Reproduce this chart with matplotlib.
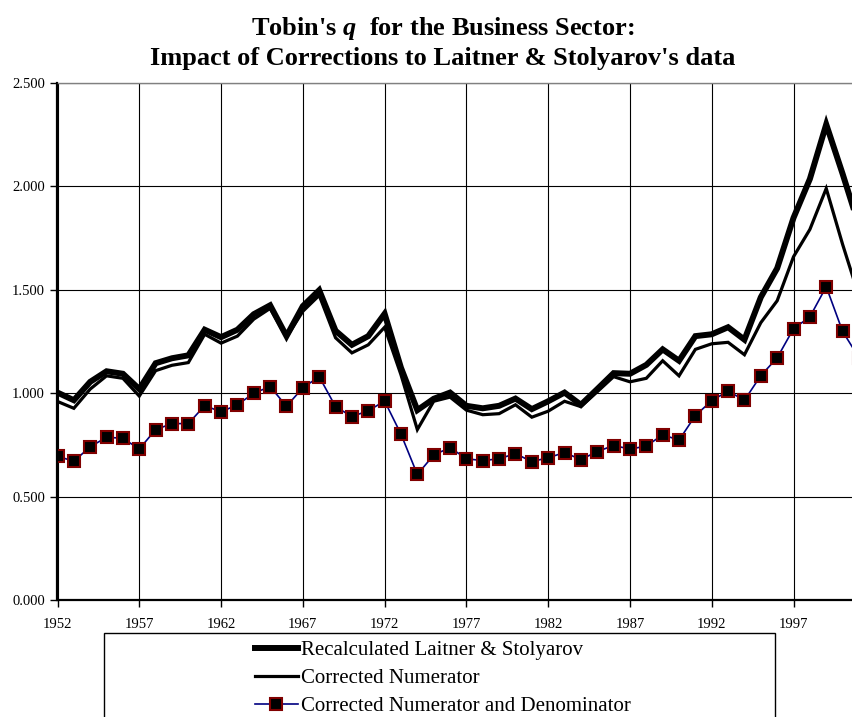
import matplotlib
matplotlib.use('Agg')
import matplotlib.pyplot as plt
from matplotlib.patches import Rectangle
from matplotlib.lines import Line2D

#=======================================================
# data (1952 - 2001)
years = list(range(1952, 2002))

recalc = [1.003, 0.966, 1.055, 1.106, 1.094, 1.020, 1.145, 1.169, 1.183, 1.307,
          1.271, 1.307, 1.382, 1.425, 1.276, 1.421, 1.498, 1.302, 1.234, 1.276,
          1.384, 1.123, 0.918, 0.973, 1.003, 0.939, 0.927, 0.939, 0.974, 0.923,
          0.961, 1.003, 0.944, 1.020, 1.097, 1.094, 1.137, 1.212, 1.157, 1.276,
          1.285, 1.319, 1.259, 1.464, 1.604, 1.848, 2.036, 2.300, 2.061, 1.810]

corr_num = [0.960, 0.927, 1.020, 1.084, 1.072, 0.986, 1.109, 1.135, 1.148, 1.285,
            1.242, 1.276, 1.358, 1.410, 1.270, 1.396, 1.473, 1.268, 1.195, 1.234,
            1.319, 1.089, 0.824, 0.961, 0.981, 0.918, 0.896, 0.901, 0.944, 0.884,
            0.913, 0.961, 0.935, 1.007, 1.080, 1.055, 1.072, 1.157, 1.084, 1.212,
            1.239, 1.246, 1.186, 1.341, 1.447, 1.660, 1.792, 1.990, 1.720, 1.470]

corr_both = [0.695, 0.671, 0.741, 0.787, 0.782, 0.730, 0.824, 0.853, 0.853, 0.940,
             0.910, 0.944, 1.000, 1.032, 0.937, 1.026, 1.080, 0.935, 0.887, 0.915,
             0.962, 0.802, 0.607, 0.701, 0.737, 0.683, 0.674, 0.683, 0.708, 0.669,
             0.688, 0.713, 0.679, 0.718, 0.747, 0.730, 0.744, 0.799, 0.773, 0.892,
             0.964, 1.010, 0.966, 1.085, 1.171, 1.312, 1.369, 1.515, 1.299, 1.172]

labels = ['Recalculated Laitner & Stolyarov',
          'Corrected Numerator',
          'Corrected Numerator and Denominator']
#=======================================================
plt.rcParams['font.family'] = 'Liberation Serif'
plt.rcParams['mathtext.fontset'] = 'custom'
plt.rcParams['mathtext.it'] = 'Liberation Serif:bold:italic'
plt.rcParams['mathtext.rm'] = 'Liberation Serif:bold'

W, H = 853, 717
fig = plt.figure(figsize=(W/100, H/100), dpi=100)
# plot area runs past the right edge, like the cropped original
ax = fig.add_axes([57.5/W, (H-600)/H, 817.8/W, 517/H])

ax.plot(years, recalc, color='black', linewidth=4.3, solid_joinstyle='miter')
ax.plot(years, corr_num, color='black', linewidth=2.3, solid_joinstyle='miter')
ax.plot(years, corr_both, color='#000080', linewidth=1.2,
        marker='s', markersize=8.5, markerfacecolor='black',
        markeredgecolor='#800000', markeredgewidth=1.5)

ax.set_xlim(1952, 2002)
ax.set_ylim(0, 2.5)
ax.set_xticks(range(1952, 2002, 5))
ax.set_yticks([0, 0.5, 1.0, 1.5, 2.0, 2.5])
ax.set_yticklabels(['%.3f' % v for v in [0, 0.5, 1.0, 1.5, 2.0, 2.5]])
ax.tick_params(labelsize=10.5, length=5, width=1, direction='out', color='black')
ax.tick_params(axis='y', pad=4)
ax.tick_params(axis='x', pad=8)
ax.set_axisbelow(True)
ax.grid(True, color='black', linewidth=0.8)
ax.spines['left'].set_linewidth(1.6)
ax.spines['bottom'].set_linewidth(1.6)
ax.spines['top'].set_color('#808080')
ax.spines['top'].set_linewidth(1.0)
ax.spines['right'].set_visible(False)

fig.text(443/W, 1-28/H, "Tobin's $q$  for the Business Sector:",
         ha='center', va='center', fontsize=19, fontweight='bold')
fig.text(443/W, 1-59/H, "Impact of Corrections to Laitner & Stolyarov's data",
         ha='center', va='center', fontsize=19, fontweight='bold')

#========================================================
# legend box (cut off at the bottom like the original)
fig.add_artist(Rectangle((104/W, -0.05), (775-104)/W, (H-633)/H + 0.05,
                         transform=fig.transFigure, fill=False,
                         edgecolor='black', linewidth=1.0))
handles = [Line2D([], [], color='black', linewidth=4.3),
           Line2D([], [], color='black', linewidth=2.3),
           Line2D([], [], color='#000080', linewidth=1.2, marker='s',
                  markersize=8.5, markerfacecolor='black',
                  markeredgecolor='#800000', markeredgewidth=1.5)]
fig.legend(handles, labels, loc='upper left', bbox_to_anchor=(255/W, 1-640.5/H),
           frameon=False, fontsize=15, handlelength=2.05, handletextpad=0.14,
           labelspacing=0.41, borderpad=0, borderaxespad=0, numpoints=1)

fig.savefig('out.png', dpi=100)
